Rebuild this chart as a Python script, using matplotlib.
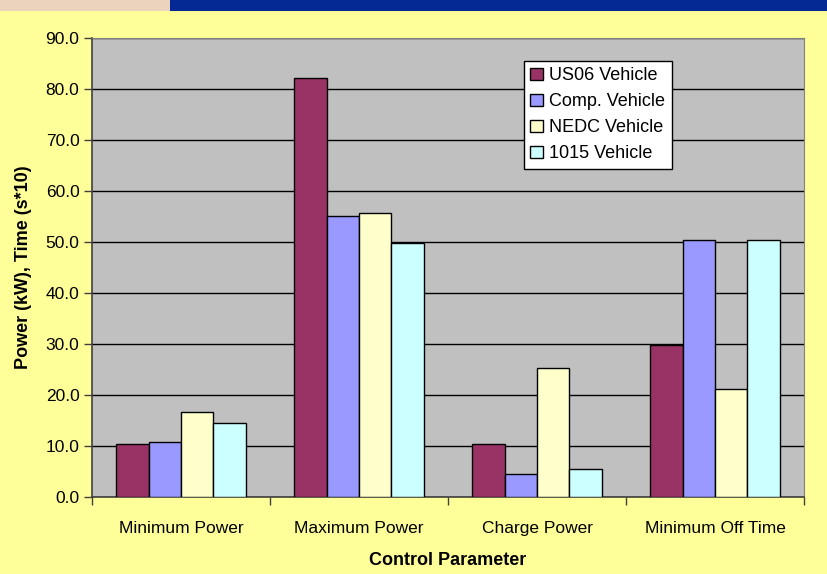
import matplotlib
matplotlib.use("Agg")
import matplotlib.pyplot as plt
import numpy as np
from matplotlib.patches import Rectangle

categories = ["Minimum Power", "Maximum Power", "Charge Power", "Minimum Off Time"]
series_names = ["US06 Vehicle", "Comp. Vehicle", "NEDC Vehicle", "1015 Vehicle"]
us06 = [10.3, 82.1, 10.3, 29.8]
comp = [10.8, 55.0, 4.5, 50.4]
nedc = [16.6, 55.7, 25.2, 21.1]
v1015 = [14.5, 49.9, 5.4, 50.4]
colors = ["#993366", "#9999FF", "#FFFFCC", "#CCFFFF"]
yticks = [0, 10, 20, 30, 40, 50, 60, 70, 80, 90]

plt.rcParams['font.family'] = ['Liberation Sans', 'DejaVu Sans']

fig = plt.figure(figsize=(8.27, 5.74), dpi=100)
fig.patch.set_facecolor("#FFFF99")

# decorative top strip
fig.patches.append(Rectangle((0, 1 - 11/574), 170/827, 11/574, transform=fig.transFigure,
                             facecolor="#EBD3BE", edgecolor="none", zorder=0))
fig.patches.append(Rectangle((170/827, 1 - 11/574), 1 - 170/827, 11/574, transform=fig.transFigure,
                             facecolor="#042894", edgecolor="none", zorder=0))

ax = fig.add_axes([92/827, 1 - 497/574, (804 - 92)/827, (497 - 38)/574])
ax.set_facecolor("#C0C0C0")

n = len(series_names)
bw = 1.0 / (n + 1.5)
x = np.arange(len(categories))
data = [us06, comp, nedc, v1015]
for i, (name, vals, c) in enumerate(zip(series_names, data, colors)):
    offs = (i - (n - 1) / 2) * bw
    ax.bar(x + offs, vals, width=bw, color=c, edgecolor="black", linewidth=1.0,
           label=name, zorder=3)

ax.set_xlim(-0.5, len(categories) - 0.5)
ax.set_ylim(0, 90)
ax.set_yticks(yticks)
ax.set_yticklabels([f"{v:.1f}" for v in yticks], fontsize=12.5)
ax.yaxis.grid(True, color="black", linewidth=1.0, zorder=1)
ax.set_axisbelow(True)

ax.set_xticks(np.arange(len(categories) + 1) - 0.5)
ax.set_xticklabels([])
ax.set_xticks(x, minor=True)
ax.set_xticklabels(categories, minor=True, fontsize=12.5)
ax.tick_params(axis="x", which="minor", length=0, pad=17)
ax.tick_params(axis="x", which="major", length=6, width=1, color="#404040")
ax.tick_params(axis="y", length=6, width=1, color="#404040", pad=3)

for s in ["left", "bottom"]:
    ax.spines[s].set_color("#404040")
    ax.spines[s].set_linewidth(1.2)
ax.spines["right"].set_color("#808080")
ax.spines["top"].set_color("#808080")

ax.set_xlabel("Control Parameter", fontsize=13, fontweight="bold", labelpad=12)
ax.set_ylabel("Power (kW), Time (s*10)", fontsize=13, fontweight="bold", labelpad=10)

leg = ax.legend(loc="upper left", bbox_to_anchor=((524 - 92) / 712, 1 - (61 - 38) / 459),
                fontsize=13, frameon=True, fancybox=False, edgecolor="black",
                handlelength=0.7, handleheight=0.7, handletextpad=0.35,
                borderpad=0.35, labelspacing=0.5, borderaxespad=0)
leg.get_frame().set_linewidth(1.0)
leg.get_frame().set_facecolor("white")
leg.get_frame().set_alpha(1)

fig.savefig("out.png", dpi=100, facecolor=fig.get_facecolor())
